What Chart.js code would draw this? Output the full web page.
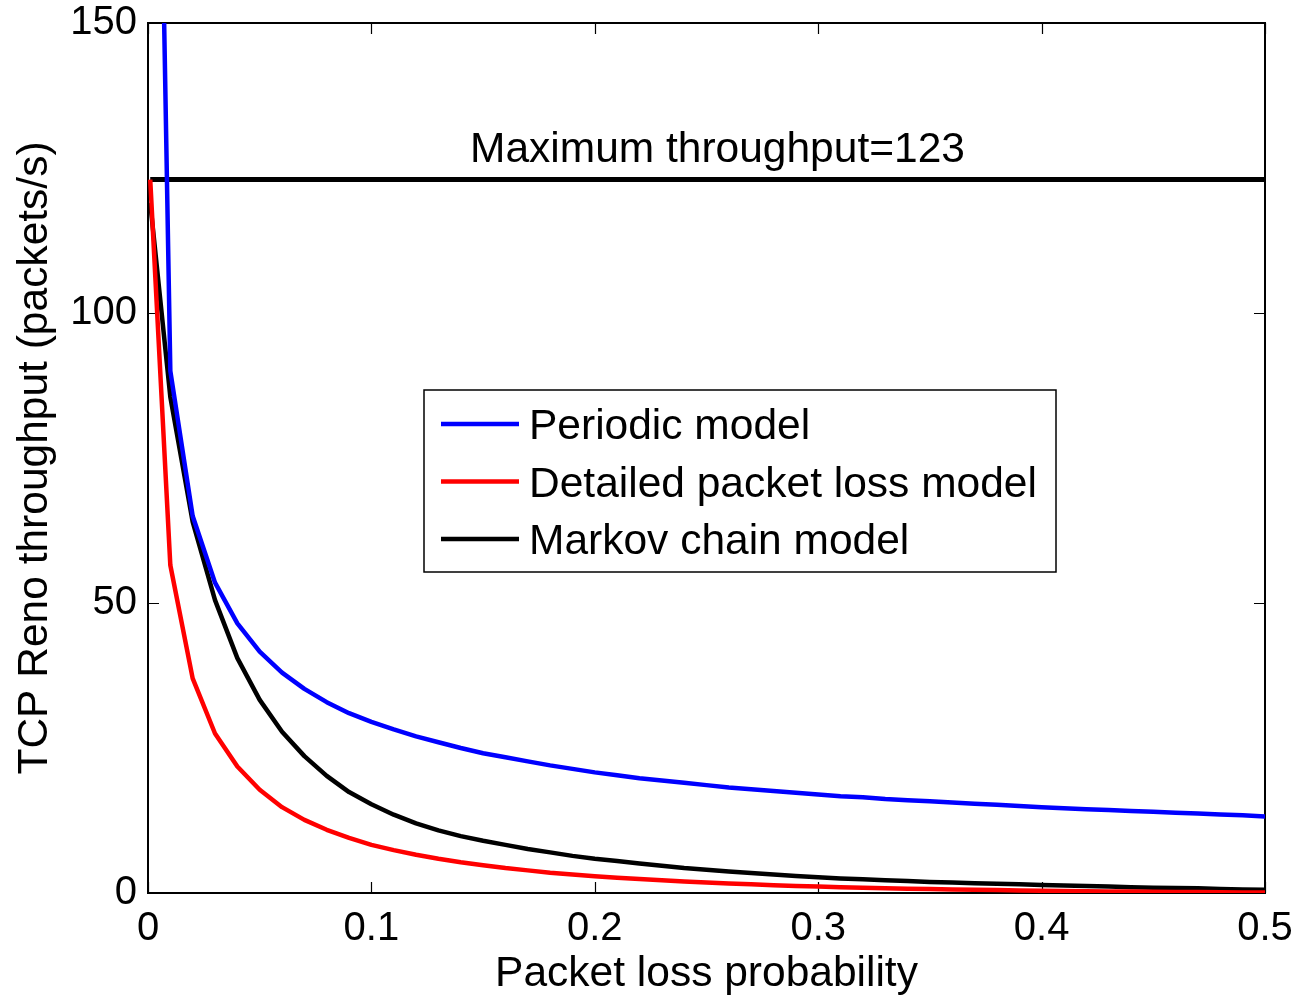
<!DOCTYPE html>
<html>
<head>
<meta charset="utf-8">
<script src="https://cdn.jsdelivr.net/npm/chart.js@4/dist/chart.umd.min.js"></script>
<style>
  body { margin: 0; background: #fff; }
  canvas { display: block; }
</style>
</head>
<body>
<canvas id="tcp-chart" width="1296" height="996"></canvas>
<script>
// packet loss probability (x)
const lossProb = [0.001, 0.01, 0.02, 0.03, 0.04, 0.05, 0.06, 0.07, 0.08, 0.09,
  0.10, 0.11, 0.12, 0.13, 0.14, 0.15, 0.16, 0.17, 0.18, 0.19,
  0.20, 0.21, 0.22, 0.23, 0.24, 0.25, 0.26, 0.27, 0.28, 0.29,
  0.30, 0.31, 0.32, 0.33, 0.34, 0.35, 0.36, 0.37, 0.38, 0.39,
  0.40, 0.41, 0.42, 0.43, 0.44, 0.45, 0.46, 0.47, 0.48, 0.49, 0.50];

const periodicModel = [285, 90, 65, 53.5, 46.5, 41.6, 38, 35.2, 32.9, 31,
  29.5, 28.2, 27, 26, 25, 24.1, 23.4, 22.7, 22, 21.4,
  20.8, 20.3, 19.8, 19.4, 19, 18.6, 18.2, 17.9, 17.6, 17.3,
  17.0, 16.7, 16.5, 16.2, 16.0, 15.8, 15.6, 15.4, 15.2, 15.0,
  14.8, 14.6, 14.45, 14.3, 14.15, 14.0, 13.85, 13.7, 13.55, 13.4, 13.2];

const detailedModel = [123, 56.5, 37, 27.5, 21.8, 17.8, 14.8, 12.6, 10.9, 9.5,
  8.3, 7.4, 6.6, 5.9, 5.3, 4.8, 4.3, 3.9, 3.5, 3.2,
  2.9, 2.65, 2.4, 2.2, 2.0, 1.8, 1.65, 1.5, 1.35, 1.2,
  1.1, 1.0, 0.9, 0.82, 0.75, 0.68, 0.62, 0.56, 0.5, 0.45,
  0.4, 0.36, 0.32, 0.28, 0.25, 0.22, 0.19, 0.16, 0.13, 0.1, 0.08];

const markovModel = [119, 85.5, 64, 50.5, 40.5, 33.3, 27.8, 23.6, 20.2, 17.4,
  15.3, 13.5, 12.0, 10.8, 9.8, 9.0, 8.3, 7.6, 7.0, 6.4,
  5.9, 5.5, 5.1, 4.7, 4.3, 4.0, 3.7, 3.45, 3.2, 2.95,
  2.7, 2.5, 2.35, 2.2, 2.05, 1.9, 1.8, 1.7, 1.6, 1.5,
  1.4, 1.3, 1.2, 1.1, 1.0, 0.9, 0.85, 0.8, 0.7, 0.6, 0.55];

const maxThroughput = 123;
const maxLineX = [0.001, 0.5];

const seriesLabels = ['Periodic model', 'Detailed packet loss model', 'Markov chain model'];
const xTicks = [0, 0.1, 0.2, 0.3, 0.4, 0.5];
const yTicks = [0, 50, 100, 150];

const FONT = "'Liberation Sans', Arial, Helvetica, sans-serif";

function toPoints(xs, ys) {
    return xs.map((x, i) => ({ x: x, y: ys[i] }));
}

// box around the plot + inward tick marks on all four sides
const framePlugin = {
    id: 'frame',
    beforeDatasetsDraw(chart) {
        const { ctx, chartArea: a, scales } = chart;
        ctx.save();
        ctx.strokeStyle = '#000';
        ctx.lineWidth = 1.2;
        const len = 11;
        ctx.beginPath();
        xTicks.forEach(v => {
            const px = Math.round(scales.x.getPixelForValue(v)) + 0.5;
            ctx.moveTo(px, a.bottom); ctx.lineTo(px, a.bottom - len);
            ctx.moveTo(px, a.top); ctx.lineTo(px, a.top + len);
        });
        yTicks.forEach(v => {
            const py = Math.round(scales.y.getPixelForValue(v)) + 0.5;
            ctx.moveTo(a.left, py); ctx.lineTo(a.left + len, py);
            ctx.moveTo(a.right, py); ctx.lineTo(a.right - len, py);
        });
        ctx.stroke();
        ctx.lineWidth = 2;
        ctx.strokeRect(a.left, a.top, a.right - a.left, a.bottom - a.top);
        ctx.restore();
    }
};

// legend box and the "Maximum throughput" annotation
const notesPlugin = {
    id: 'notes',
    afterDatasetsDraw(chart) {
        const { ctx, scales } = chart;
        ctx.save();
        ctx.font = '42.5px ' + FONT;
        ctx.fillStyle = '#000';
        ctx.textBaseline = 'alphabetic';
        ctx.textAlign = 'left';
        const maxY = scales.y.getPixelForValue(maxThroughput);
        ctx.fillText('Maximum throughput=' + maxThroughput, 470, maxY - 18);

        // legend
        const box = { x: 424, y: 390, w: 632, h: 182 };
        ctx.fillStyle = '#fff';
        ctx.fillRect(box.x, box.y, box.w, box.h);
        ctx.strokeStyle = '#000';
        ctx.lineWidth = 1.5;
        ctx.strokeRect(box.x, box.y, box.w, box.h);
        const items = chart.data.datasets.filter(d => !d.hideInLegend);
        items.forEach((d, i) => {
            const cy = 424 + i * 57.5;
            ctx.strokeStyle = d.borderColor;
            ctx.lineWidth = 4.5;
            ctx.beginPath();
            ctx.moveTo(441, cy);
            ctx.lineTo(519, cy);
            ctx.stroke();
            ctx.fillStyle = '#000';
            ctx.fillText(d.label, 529, cy + 15);
        });
        ctx.restore();
    }
};

const ctx = document.getElementById('tcp-chart').getContext('2d');
const chart = new Chart(ctx, {
    type: 'line',
    data: {
        datasets: [{
            label: seriesLabels[0],
            data: toPoints(lossProb, periodicModel),
            borderColor: '#0000ff',
            borderWidth: 4.5
        }, {
            label: seriesLabels[1],
            data: toPoints(lossProb, detailedModel),
            borderColor: '#ff0000',
            borderWidth: 4.5
        }, {
            label: seriesLabels[2],
            data: toPoints(lossProb, markovModel),
            borderColor: '#000000',
            borderWidth: 4.5
        }, {
            label: 'Maximum throughput',
            data: maxLineX.map(x => ({ x: x, y: maxThroughput })),
            borderColor: '#000000',
            borderWidth: 5,
            hideInLegend: true
        }]
    },
    options: {
        responsive: false,
        animation: false,
        devicePixelRatio: 1,
        elements: {
            point: { radius: 0 },
            line: { tension: 0, borderCapStyle: 'butt', borderJoinStyle: 'round' }
        },
        layout: {
            padding: { top: 23, right: 31, left: 0, bottom: 0 }
        },
        plugins: {
            legend: { display: false },
            tooltip: { enabled: false }
        },
        scales: {
            x: {
                type: 'linear',
                min: 0,
                max: 0.5,
                grid: { display: false },
                border: { display: false },
                afterFit: function(scale) {
                    scale.height = 103;
                    scale.paddingLeft = 0;
                    scale.paddingRight = 0;
                },
                afterBuildTicks: function(scale) {
                    scale.ticks = xTicks.map(v => ({ value: v }));
                },
                ticks: {
                    autoSkip: false,
                    maxRotation: 0,
                    padding: 8,
                    color: '#000',
                    font: { family: FONT, size: 40, lineHeight: 1 },
                    callback: function(v) { return String(+v.toFixed(1)); }
                },
                title: {
                    display: true,
                    text: 'Packet loss probability',
                    color: '#000',
                    font: { family: FONT, size: 42.5, lineHeight: 1 },
                    padding: { top: 6, bottom: 0 }
                }
            },
            y: {
                type: 'linear',
                min: 0,
                max: 150,
                grid: { display: false },
                border: { display: false },
                afterFit: function(scale) {
                    scale.width = 148;
                    scale.paddingTop = 0;
                    scale.paddingBottom = 0;
                },
                afterBuildTicks: function(scale) {
                    scale.ticks = yTicks.map(v => ({ value: v }));
                },
                ticks: {
                    autoSkip: false,
                    padding: 3,
                    color: '#000',
                    font: { family: FONT, size: 40, lineHeight: 1 },
                    callback: function(v) { return String(v); }
                },
                title: {
                    display: true,
                    text: 'TCP Reno throughput (packets/s)',
                    color: '#000',
                    font: { family: FONT, size: 42.5, lineHeight: 1 },
                    padding: { top: 14, bottom: 0 }
                }
            }
        }
    },
    plugins: [framePlugin, notesPlugin]
});
</script>
</body>
</html>
